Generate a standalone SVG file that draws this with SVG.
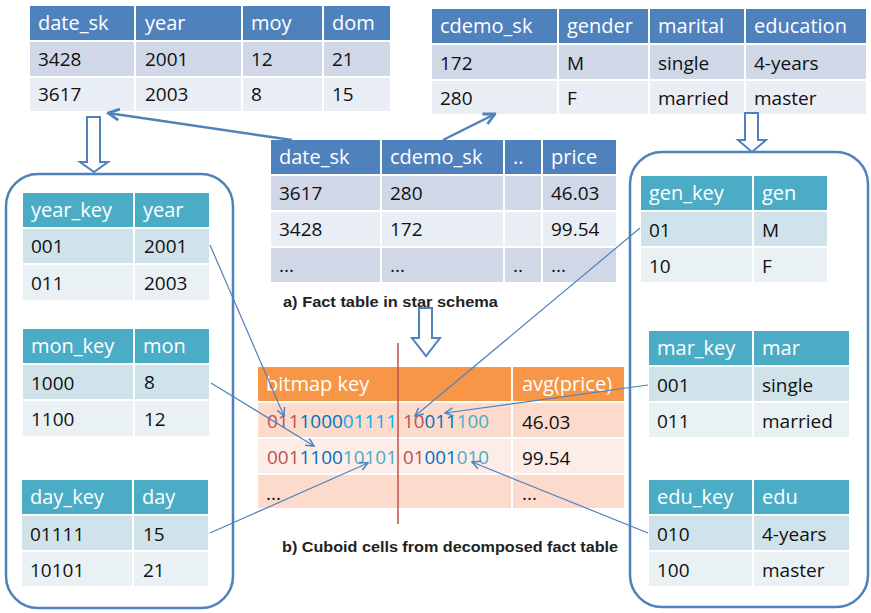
<svg xmlns="http://www.w3.org/2000/svg" width="871" height="613" viewBox="0 0 871 613">
  <style>
    rect.cell { stroke: #ffffff; stroke-width: 2; }
    .bh { fill: #4F81BD; } .b1 { fill: #D0D8E8; } .b2 { fill: #E9EDF4; }
    .th { fill: #4BACC6; } .t1 { fill: #D0E3EA; } .t2 { fill: #E9F1F5; }
    .oh { fill: #F79646; } .o1 { fill: #FCDBCD; } .o2 { fill: #FDEDE8; }
    text { font-family: "Open Sans", "Liberation Sans", sans-serif; }
    .hd { fill: #ffffff; font-size: 20px; }
    .tx { fill: #111111; font-size: 19px; }
    .bits { font-size: 19px; }
    .cap { font-family: "Liberation Sans", Arial, sans-serif; font-size: 14px; font-weight: bold; fill: #222222; }
    .red { fill: #C0504D; } .dblue { fill: #0070C0; } .cyan { fill: #00B0F0; } .teal { fill: #4BACC6; }
    .link { fill: none; stroke: #4F81BD; stroke-width: 1.2; }
    .link-thick { fill: none; stroke: #4F81BD; stroke-width: 2.5; }
    .blk { fill: #ffffff; stroke: #4F81BD; stroke-width: 2; }
    .group { fill: none; stroke: #4F81BD; stroke-width: 2.5; }
  </style>
  <defs>
    <marker id="tip" viewBox="0 0 10 10" refX="9" refY="5" markerWidth="10" markerHeight="10" markerUnits="userSpaceOnUse" orient="auto">
      <path d="M1,1 L9,5 L1,9" fill="none" stroke="#4F81BD" stroke-width="1.5"/>
    </marker>
    <marker id="tip-big" viewBox="0 0 10 10" refX="9" refY="5" markerWidth="14" markerHeight="14" markerUnits="userSpaceOnUse" orient="auto">
      <path d="M1,1 L9,5 L1,9" fill="none" stroke="#4F81BD" stroke-width="2"/>
    </marker>
  </defs>

  <rect width="871" height="613" fill="#ffffff"/>

  <!-- date dimension -->
  <g id="date-dim">
    <rect class="cell bh" x="29" y="5" width="106" height="36"/>
    <rect class="cell bh" x="135" y="5" width="107" height="36"/>
    <rect class="cell bh" x="242" y="5" width="81" height="36"/>
    <rect class="cell bh" x="323" y="5" width="68" height="36"/>
    <rect class="cell b1" x="29" y="41" width="106" height="36"/>
    <rect class="cell b1" x="135" y="41" width="107" height="36"/>
    <rect class="cell b1" x="242" y="41" width="81" height="36"/>
    <rect class="cell b1" x="323" y="41" width="68" height="36"/>
    <rect class="cell b2" x="29" y="77" width="106" height="35"/>
    <rect class="cell b2" x="135" y="77" width="107" height="35"/>
    <rect class="cell b2" x="242" y="77" width="81" height="35"/>
    <rect class="cell b2" x="323" y="77" width="68" height="35"/>
    <text class="hd" x="38" y="30">date_sk</text>
    <text class="hd" x="145" y="30">year</text>
    <text class="hd" x="251" y="30">moy</text>
    <text class="hd" x="332" y="30">dom</text>
    <text class="tx" x="38" y="66">3428</text>
    <text class="tx" x="145" y="66">2001</text>
    <text class="tx" x="251" y="66">12</text>
    <text class="tx" x="332" y="66">21</text>
    <text class="tx" x="38" y="101">3617</text>
    <text class="tx" x="145" y="101">2003</text>
    <text class="tx" x="251" y="101">8</text>
    <text class="tx" x="332" y="101">15</text>
  </g>

  <!-- customer demographics dimension -->
  <g id="cdemo-dim">
    <rect class="cell bh" x="431" y="8" width="127" height="36"/>
    <rect class="cell bh" x="558" y="8" width="91" height="36"/>
    <rect class="cell bh" x="649" y="8" width="96" height="36"/>
    <rect class="cell bh" x="745" y="8" width="122" height="36"/>
    <rect class="cell b1" x="431" y="44" width="127" height="36"/>
    <rect class="cell b1" x="558" y="44" width="91" height="36"/>
    <rect class="cell b1" x="649" y="44" width="96" height="36"/>
    <rect class="cell b1" x="745" y="44" width="122" height="36"/>
    <rect class="cell b2" x="431" y="80" width="127" height="35"/>
    <rect class="cell b2" x="558" y="80" width="91" height="35"/>
    <rect class="cell b2" x="649" y="80" width="96" height="35"/>
    <rect class="cell b2" x="745" y="80" width="122" height="35"/>
    <text class="hd" x="440" y="33">cdemo_sk</text>
    <text class="hd" x="567" y="33">gender</text>
    <text class="hd" x="658" y="33">marital</text>
    <text class="hd" x="754" y="33">education</text>
    <text class="tx" x="440" y="70">172</text>
    <text class="tx" x="567" y="70">M</text>
    <text class="tx" x="658" y="70">single</text>
    <text class="tx" x="754" y="70">4-years</text>
    <text class="tx" x="440" y="105">280</text>
    <text class="tx" x="567" y="105">F</text>
    <text class="tx" x="658" y="105">married</text>
    <text class="tx" x="754" y="105">master</text>
  </g>

  <!-- fact table -->
  <g id="fact-table">
    <rect class="cell bh" x="270" y="139" width="111" height="36"/>
    <rect class="cell bh" x="381" y="139" width="123" height="36"/>
    <rect class="cell bh" x="504" y="139" width="38" height="36"/>
    <rect class="cell bh" x="542" y="139" width="75" height="36"/>
    <rect class="cell b1" x="270" y="175" width="111" height="36"/>
    <rect class="cell b1" x="381" y="175" width="123" height="36"/>
    <rect class="cell b1" x="504" y="175" width="38" height="36"/>
    <rect class="cell b1" x="542" y="175" width="75" height="36"/>
    <rect class="cell b2" x="270" y="211" width="111" height="36"/>
    <rect class="cell b2" x="381" y="211" width="123" height="36"/>
    <rect class="cell b2" x="504" y="211" width="38" height="36"/>
    <rect class="cell b2" x="542" y="211" width="75" height="36"/>
    <rect class="cell b1" x="270" y="247" width="111" height="36"/>
    <rect class="cell b1" x="381" y="247" width="123" height="36"/>
    <rect class="cell b1" x="504" y="247" width="38" height="36"/>
    <rect class="cell b1" x="542" y="247" width="75" height="36"/>
    <text class="hd" x="279" y="164">date_sk</text>
    <text class="hd" x="390" y="164">cdemo_sk</text>
    <text class="hd" x="513" y="164">..</text>
    <text class="hd" x="551" y="164">price</text>
    <text class="tx" x="279" y="200">3617</text>
    <text class="tx" x="390" y="200">280</text>
    <text class="tx" x="551" y="200">46.03</text>
    <text class="tx" x="279" y="236">3428</text>
    <text class="tx" x="390" y="236">172</text>
    <text class="tx" x="551" y="236">99.54</text>
    <text class="tx" x="279" y="272">...</text>
    <text class="tx" x="390" y="272">...</text>
    <text class="tx" x="513" y="272">..</text>
    <text class="tx" x="551" y="272">...</text>
    <text class="cap" x="283" y="307" textLength="215" lengthAdjust="spacingAndGlyphs">a) Fact table in star schema</text>
  </g>

  <!-- cuboid cells -->
  <g id="cuboid-table">
    <rect class="cell oh" x="257" y="366" width="255" height="36"/>
    <rect class="cell oh" x="512" y="366" width="113" height="36"/>
    <rect class="cell o1" x="257" y="402" width="255" height="36"/>
    <rect class="cell o1" x="512" y="402" width="113" height="36"/>
    <rect class="cell o2" x="257" y="438" width="255" height="36"/>
    <rect class="cell o2" x="512" y="438" width="113" height="36"/>
    <rect class="cell o1" x="257" y="474" width="255" height="35"/>
    <rect class="cell o1" x="512" y="474" width="113" height="35"/>
    <text class="hd" x="266" y="391">bitmap key</text>
    <text class="hd" x="522" y="391">avg(price)</text>
    <text class="bits" x="267" y="428" textLength="130" lengthAdjust="spacingAndGlyphs"><tspan class="red">011</tspan><tspan class="dblue">1000</tspan><tspan class="cyan">01111</tspan></text>
    <text class="bits" x="403" y="428" textLength="86" lengthAdjust="spacingAndGlyphs"><tspan class="red">10</tspan><tspan class="dblue">011</tspan><tspan class="teal">100</tspan></text>
    <text class="bits" x="267" y="464" textLength="130" lengthAdjust="spacingAndGlyphs"><tspan class="red">001</tspan><tspan class="dblue">1100</tspan><tspan class="teal">10101</tspan></text>
    <text class="bits" x="403" y="464" textLength="86" lengthAdjust="spacingAndGlyphs"><tspan class="red">01</tspan><tspan class="dblue">001</tspan><tspan class="teal">010</tspan></text>
    <text class="tx" x="522" y="429">46.03</text>
    <text class="tx" x="522" y="465">99.54</text>
    <text class="tx" x="266" y="500">...</text>
    <text class="tx" x="522" y="500">...</text>
    <line x1="398" y1="343" x2="398" y2="524" stroke="#C0504D" stroke-width="1.5"/>
    <text class="cap" x="282" y="552" textLength="336" lengthAdjust="spacingAndGlyphs">b) Cuboid cells from decomposed fact table</text>
  </g>

  <!-- date key groups -->
  <rect id="date-keys" class="group" x="6" y="174" width="227" height="434" rx="32"/>
  <g id="year-key">
    <rect class="cell th" x="22" y="192" width="112" height="36"/>
    <rect class="cell th" x="134" y="192" width="76" height="36"/>
    <rect class="cell t1" x="22" y="228" width="112" height="36"/>
    <rect class="cell t1" x="134" y="228" width="76" height="36"/>
    <rect class="cell t2" x="22" y="264" width="112" height="37"/>
    <rect class="cell t2" x="134" y="264" width="76" height="37"/>
    <text class="hd" x="31" y="217">year_key</text>
    <text class="hd" x="143" y="217">year</text>
    <text class="tx" x="31" y="253">001</text>
    <text class="tx" x="144" y="253">2001</text>
    <text class="tx" x="31" y="290">011</text>
    <text class="tx" x="144" y="290">2003</text>
  </g>
  <g id="mon-key">
    <rect class="cell th" x="22" y="328" width="112" height="36"/>
    <rect class="cell th" x="134" y="328" width="76" height="36"/>
    <rect class="cell t1" x="22" y="364" width="112" height="36"/>
    <rect class="cell t1" x="134" y="364" width="76" height="36"/>
    <rect class="cell t2" x="22" y="400" width="112" height="37"/>
    <rect class="cell t2" x="134" y="400" width="76" height="37"/>
    <text class="hd" x="31" y="353">mon_key</text>
    <text class="hd" x="143" y="353">mon</text>
    <text class="tx" x="31" y="390">1000</text>
    <text class="tx" x="144" y="389">8</text>
    <text class="tx" x="31" y="426">1100</text>
    <text class="tx" x="144" y="426">12</text>
  </g>
  <g id="day-key">
    <rect class="cell th" x="21" y="479" width="112" height="36"/>
    <rect class="cell th" x="133" y="479" width="76" height="36"/>
    <rect class="cell t1" x="21" y="515" width="112" height="36"/>
    <rect class="cell t1" x="133" y="515" width="76" height="36"/>
    <rect class="cell t2" x="21" y="551" width="112" height="36"/>
    <rect class="cell t2" x="133" y="551" width="76" height="36"/>
    <text class="hd" x="30" y="504">day_key</text>
    <text class="hd" x="142" y="504">day</text>
    <text class="tx" x="30" y="541">01111</text>
    <text class="tx" x="143" y="541">15</text>
    <text class="tx" x="30" y="577">10101</text>
    <text class="tx" x="143" y="577">21</text>
  </g>

  <!-- demographics key groups -->
  <rect id="cdemo-keys" class="group" x="630" y="152" width="238" height="455" rx="32"/>
  <g id="gen-key">
    <rect class="cell th" x="640" y="175" width="113" height="36"/>
    <rect class="cell th" x="753" y="175" width="75" height="36"/>
    <rect class="cell t1" x="640" y="211" width="113" height="36"/>
    <rect class="cell t1" x="753" y="211" width="75" height="36"/>
    <rect class="cell t2" x="640" y="247" width="113" height="36"/>
    <rect class="cell t2" x="753" y="247" width="75" height="36"/>
    <text class="hd" x="649" y="200">gen_key</text>
    <text class="hd" x="762" y="200">gen</text>
    <text class="tx" x="649" y="237">01</text>
    <text class="tx" x="762" y="237">M</text>
    <text class="tx" x="649" y="273">10</text>
    <text class="tx" x="762" y="273">F</text>
  </g>
  <g id="mar-key">
    <rect class="cell th" x="648" y="330" width="105" height="36"/>
    <rect class="cell th" x="753" y="330" width="97" height="36"/>
    <rect class="cell t1" x="648" y="366" width="105" height="36"/>
    <rect class="cell t1" x="753" y="366" width="97" height="36"/>
    <rect class="cell t2" x="648" y="402" width="105" height="36"/>
    <rect class="cell t2" x="753" y="402" width="97" height="36"/>
    <text class="hd" x="657" y="355">mar_key</text>
    <text class="hd" x="762" y="355">mar</text>
    <text class="tx" x="657" y="392">001</text>
    <text class="tx" x="762" y="392">single</text>
    <text class="tx" x="657" y="428">011</text>
    <text class="tx" x="762" y="428">married</text>
  </g>
  <g id="edu-key">
    <rect class="cell th" x="648" y="479" width="105" height="36"/>
    <rect class="cell th" x="753" y="479" width="97" height="36"/>
    <rect class="cell t1" x="648" y="515" width="105" height="36"/>
    <rect class="cell t1" x="753" y="515" width="97" height="36"/>
    <rect class="cell t2" x="648" y="551" width="105" height="36"/>
    <rect class="cell t2" x="753" y="551" width="97" height="36"/>
    <text class="hd" x="657" y="504">edu_key</text>
    <text class="hd" x="762" y="504">edu</text>
    <text class="tx" x="657" y="541">010</text>
    <text class="tx" x="762" y="541">4-years</text>
    <text class="tx" x="657" y="577">100</text>
    <text class="tx" x="762" y="577">master</text>
  </g>

  <!-- connectors -->
  <g id="connectors">
    <path class="blk" d="M87,117 H100 V162 H108 L94,172 L80,162 H87 Z"/>
    <path class="blk" d="M419,308 H432 V338 H440 L426,356 L412,338 H419 Z"/>
    <path class="blk" d="M745,113 H758 V140 H766 L752,152 L738,140 H745 Z"/>
    <line class="link-thick" x1="292" y1="140" x2="108" y2="113" marker-end="url(#tip-big)"/>
    <line class="link-thick" x1="443" y1="140" x2="495" y2="114" marker-end="url(#tip-big)"/>
    <line class="link" x1="210" y1="245" x2="284" y2="416" marker-end="url(#tip)"/>
    <line class="link" x1="211" y1="383" x2="314" y2="446" marker-end="url(#tip)"/>
    <line class="link" x1="210" y1="533" x2="368" y2="463" marker-end="url(#tip)"/>
    <line class="link" x1="640" y1="228" x2="415" y2="416" marker-end="url(#tip)"/>
    <line class="link" x1="648" y1="385" x2="445" y2="413" marker-end="url(#tip)"/>
    <line class="link" x1="648" y1="533" x2="472" y2="462" marker-end="url(#tip)"/>
  </g>
</svg>
